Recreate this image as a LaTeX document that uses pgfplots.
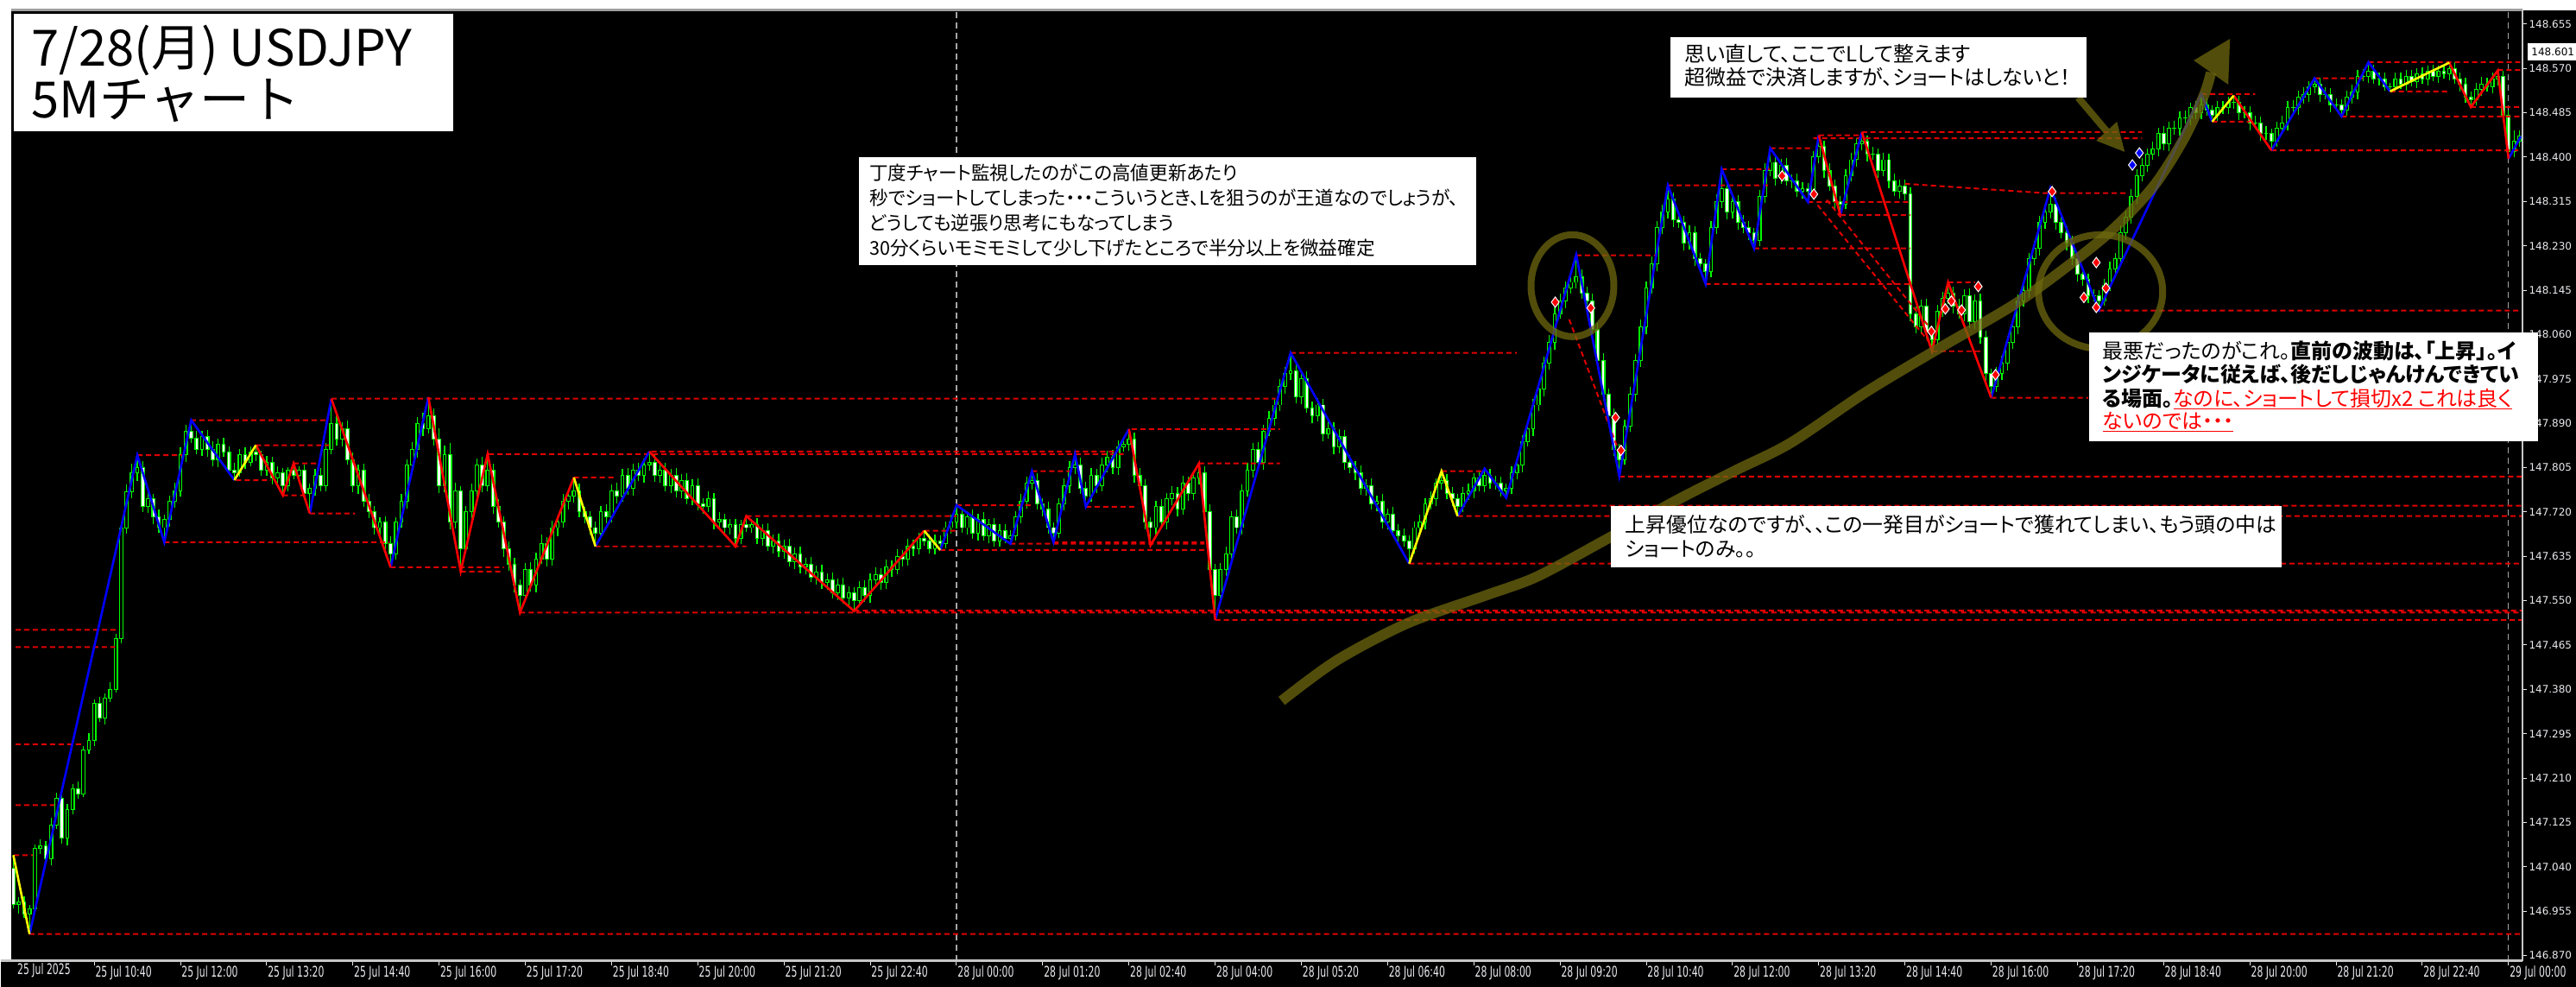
\documentclass[border=0pt]{standalone}
\usepackage{fontspec}
\usepackage{pgfplots}
\usepackage{pgfplotstable}
\pgfplotsset{compat=1.18}
\newfontfamily\jp[RawFeature=+palt]{Noto Sans CJK JP}
\newfontfamily\jpn[RawFeature=+palt,FakeStretch=0.98]{Noto Sans CJK JP}
\newfontfamily\jpt{Noto Sans CJK JP}
\newfontfamily\tickfont{DejaVu Sans}
\newfontfamily\xtickfont[FakeStretch=0.64]{DejaVu Sans}
\definecolor{cg}{RGB}{0,250,0}
\definecolor{zzb}{RGB}{0,0,255}
\definecolor{zzr}{RGB}{255,0,0}
\definecolor{zzy}{RGB}{255,255,0}
\definecolor{dl}{RGB}{225,0,0}
\definecolor{olv}{RGB}{110,104,14}
\definecolor{lab}{RGB}{235,235,240}
\newsavebox\ulbox
\newcommand\redul[1]{\sbox\ulbox{#1}\rlap{\usebox\ulbox}\raisebox{-1.8pt}{\rule{\wd\ulbox}{0.9pt}}}

% candles: i, close, upper wick, lower wick ; prices as (price-147)*1000
\pgfplotstableread{
i c u d
-15 -32 25 8
-14 -28 10 18
-13 -50 12 8
-12 -40 6 39
-11 75 8 6
-10 80 12 10
-9 55 10 8
-8 120 14 12
-7 172 10 8
-6 95 6 10
-5 150 10 14
-4 190 8 9
-3 180 14 10
-2 264 8 6
-1 282 14 8
0 353 8 10
1 325 12 8
2 363 10 12
3 380 14 8
4 477 10 6
5 689 10 8
6 758 14 10
7 795 18 12
8 805 24 16
9 730 12 10
10 745 14 12
11 710 10 14
12 690 14 10
13 705 10 28
14 740 12 14
15 760 16 12
16 830 14 10
17 875 12 14
18 862 21 10
19 840 14 10
20 865 10 12
21 840 12 14
22 820 16 12
23 850 10 14
24 835 12 10
25 800 10 8
26 795 14 14
27 830 10 8
28 815 14 12
29 835 10 8
30 830 13 12
31 800 8 10
32 815 12 10
33 785 10 12
34 795 12 12
35 770 10 18
36 800 6 10
37 790 13 8
38 800 8 12
39 755 10 12
40 765 10 38
41 790 12 14
42 770 14 10
43 840 12 10
44 890 47 10
45 860 16 12
46 880 12 14
47 820 16 10
48 770 14 12
49 800 10 16
50 740 12 10
51 720 14 12
52 690 12 14
53 700 10 16
54 660 12 12
55 640 14 26
56 700 10 12
57 740 14 10
58 810 10 14
59 840 14 12
60 890 12 16
61 880 20 14
62 905 35 10
63 860 14 12
64 770 20 14
65 830 18 12
66 700 22 14
67 760 16 12
68 650 10 44
69 720 12 10
70 760 14 12
71 810 12 14
72 770 16 12
73 800 31 10
74 730 12 14
75 700 14 10
76 650 12 16
77 620 14 12
78 580 12 14
79 560 10 33
80 610 12 10
81 580 14 12
82 630 12 14
83 660 16 10
84 630 12 14
85 690 14 12
86 700 12 16
87 740 14 10
88 750 12 16
89 760 26 12
90 720 14 10
91 710 10 12
92 690 12 14
93 680 12 26
94 720 12 10
95 710 14 12
96 760 12 10
97 750 16 14
98 790 12 10
99 765 14 12
100 800 12 14
101 790 14 10
102 810 12 14
103 815 21 10
104 790 14 12
105 800 12 14
106 770 14 10
107 790 12 14
108 760 14 12
109 780 12 14
110 745 14 10
111 770 12 12
112 735 14 12
113 730 12 14
114 745 14 10
115 700 12 14
116 705 14 12
117 690 12 10
118 695 12 14
119 670 12 16
120 695 10 12
121 690 17 8
122 695 12 10
123 670 14 12
124 685 12 14
125 655 14 10
126 665 12 14
127 645 14 12
128 655 12 14
129 625 14 10
130 640 12 14
131 615 14 12
132 620 12 14
133 595 14 10
134 605 12 14
135 585 14 12
136 590 12 14
137 565 14 10
138 580 12 14
139 555 14 10
140 565 12 14
141 550 10 20
142 575 12 10
143 560 14 12
144 590 12 14
145 600 14 10
146 585 12 14
147 615 14 12
148 610 12 14
149 635 14 10
150 630 12 14
151 655 14 12
152 650 12 14
153 670 10 12
154 665 14 10
155 650 12 10
156 665 12 12
157 660 10 13
158 690 12 10
159 700 14 12
160 715 18 12
161 690 12 10
162 710 12 14
163 680 14 12
164 705 12 14
165 675 14 10
166 695 12 14
167 665 14 12
168 685 12 12
169 670 12 10
170 675 10 11
171 710 12 10
172 740 14 12
173 775 12 14
174 780 18 12
175 735 14 10
176 725 12 14
177 690 14 12
178 680 10 18
179 735 12 10
180 770 14 12
181 805 12 14
182 810 21 12
183 765 14 10
184 750 12 20
185 790 14 10
186 770 12 14
187 810 14 10
188 825 12 14
189 805 14 12
190 845 12 14
191 850 14 10
192 860 19 12
193 790 12 14
194 770 14 10
195 700 12 14
196 690 10 34
197 730 12 14
198 700 14 10
199 745 12 14
200 755 14 12
201 725 12 14
202 775 14 10
203 755 12 14
204 785 12 12
205 795 18 12
206 720 12 14
207 610 14 12
208 560 10 47
209 610 12 10
210 640 14 12
211 710 12 14
212 690 14 12
213 760 12 14
214 800 14 10
215 840 12 14
216 815 14 12
217 875 12 14
218 900 14 10
219 925 12 14
220 960 14 12
221 985 12 14
222 990 35 12
223 940 14 12
224 975 12 14
225 920 14 10
226 905 12 14
227 925 14 12
228 870 12 14
229 880 14 10
230 845 12 14
231 865 14 12
232 815 12 14
233 805 14 10
234 795 12 14
235 765 14 12
236 770 12 14
237 735 14 10
238 740 12 14
239 700 14 12
240 715 12 14
241 685 14 10
242 675 12 14
243 665 14 12
244 650 10 29
245 690 12 10
246 700 14 12
247 735 12 14
248 745 14 10
249 775 10 14
250 780 18 12
251 755 12 10
252 745 12 14
253 730 10 18
254 755 12 10
255 760 14 12
256 785 10 14
257 770 12 10
258 790 13 12
259 775 12 10
260 775 14 12
261 760 12 10
262 765 10 13
263 795 12 10
264 810 14 12
265 855 12 14
266 880 14 10
267 925 12 14
268 955 14 12
269 1005 12 14
270 1045 14 12
271 1100 12 14
272 1125 14 10
273 1150 12 14
274 1160 14 12
275 1170 43 12
276 1140 14 12
277 1125 12 14
278 1070 14 12
279 1010 12 14
280 945 14 12
281 905 12 14
282 840 14 12
283 820 10 32
284 885 12 10
285 945 14 12
286 1010 12 14
287 1075 14 12
288 1150 12 14
289 1195 14 12
290 1265 12 14
291 1295 14 12
292 1320 26 12
293 1280 12 14
294 1275 14 10
295 1235 12 14
296 1255 14 12
297 1205 12 14
298 1195 12 12
299 1180 10 23
300 1265 12 10
301 1315 14 12
302 1340 37 12
303 1295 12 14
304 1315 14 12
305 1275 12 14
306 1265 14 10
307 1255 12 14
308 1240 10 15
309 1325 12 10
310 1375 14 12
311 1390 27 12
312 1360 12 14
313 1385 12 12
314 1355 14 10
315 1355 12 14
316 1335 14 12
317 1340 12 14
318 1335 10 21
319 1400 12 10
320 1420 22 12
321 1375 12 14
322 1345 14 10
323 1315 12 14
324 1310 10 21
325 1365 12 10
326 1395 14 12
327 1425 12 14
328 1430 18 12
329 1405 12 14
330 1405 14 10
331 1375 12 14
332 1395 14 12
333 1355 12 14
334 1335 14 10
335 1345 12 14
336 1330 12 12
337 1100 12 14
338 1075 14 12
339 1115 12 14
340 1065 14 12
341 1050 10 22
342 1105 12 10
343 1130 12 12
344 1140 20 12
345 1115 12 14
346 1100 14 10
347 1135 12 14
348 1085 14 12
349 1125 12 14
350 1055 14 12
351 985 12 14
352 960 10 21
353 985 12 10
354 1005 14 12
355 1045 12 14
356 1075 14 12
357 1125 12 14
358 1145 14 12
359 1205 12 14
360 1225 14 12
361 1275 12 14
362 1295 14 12
363 1310 31 12
364 1275 12 14
365 1255 14 10
366 1235 12 14
367 1205 14 12
368 1175 12 14
369 1165 14 12
370 1135 12 14
371 1135 12 12
372 1125 10 18
373 1155 12 10
374 1185 14 12
375 1205 12 14
376 1255 14 12
377 1285 12 14
378 1325 14 12
379 1365 12 14
380 1385 14 12
381 1405 12 14
382 1415 14 10
383 1445 12 14
384 1425 14 12
385 1455 12 14
386 1455 14 12
387 1475 12 14
388 1475 14 10
389 1495 10 14
390 1485 12 12
391 1500 21 12
392 1490 12 10
393 1480 10 12
394 1495 12 10
395 1495 12 12
396 1505 10 12
397 1505 13 12
398 1485 12 14
399 1485 12 10
400 1465 12 14
401 1465 14 10
402 1445 12 14
403 1445 14 12
404 1430 10 17
405 1455 12 10
406 1465 14 12
407 1495 12 14
408 1495 14 10
409 1515 12 14
410 1520 14 12
411 1535 10 14
412 1540 11 12
413 1520 12 14
414 1520 14 10
415 1500 12 14
416 1500 12 10
417 1490 10 12
418 1515 12 10
419 1525 14 12
420 1555 12 14
421 1555 14 10
422 1565 17 12
423 1550 12 10
424 1550 12 12
425 1535 12 8
426 1535 8 9
427 1550 12 10
428 1540 12 10
429 1555 12 12
430 1545 12 10
431 1560 10 12
432 1550 12 10
433 1565 10 12
434 1555 12 10
435 1565 10 12
436 1560 12 10
437 1570 11 12
438 1550 12 10
439 1540 12 14
440 1515 12 10
441 1510 10 14
442 1530 12 10
443 1540 14 12
444 1535 12 10
445 1550 12 12
446 1555 11 12
447 1480 10 12
448 1410 10 13
449 1430 22 10
450 1440 12 10
}\candles
\pgfplotstablecreatecol[create col/assign/.code={%
  \getprevrow{c}{\prevc}%
  \ifx\prevc\empty\def\prevc{37}\fi
  \pgfkeyslet{/pgfplots/table/create col/next content}\prevc
}]{o}{\candles}

\begin{document}
\begin{tikzpicture}
\begin{scope}[x=0.5pt,y=-0.5pt,yshift=571.5pt]
  \fill[black] (0,0) rectangle (2984,1143);
  \fill[white] (0,0) rectangle (2984,12);
  \fill[white] (0,0) rectangle (12,1113);
\end{scope}
\begin{axis}[
  at={(6.5pt,15pt)}, anchor=south west,
  width=1454.5pt, height=549.5pt, scale only axis,
  xmin=-15.21, xmax=450.6, ymin=146.860, ymax=148.678,
  clip mode=individual,
  axis line style={draw=none},
  tick align=outside, major tick length=2.5pt,
  tick style={draw=lab, line width=0.5pt},
  xtick pos=bottom, ytick pos=right,
  xticklabel pos=lower, yticklabel pos=right,
  xtick={0,16,...,448},
  xticklabels={25 Jul 10:40,25 Jul 12:00,25 Jul 13:20,25 Jul 14:40,25 Jul 16:00,25 Jul 17:20,25 Jul 18:40,25 Jul 20:00,25 Jul 21:20,25 Jul 22:40,28 Jul 00:00,28 Jul 01:20,28 Jul 02:40,28 Jul 04:00,28 Jul 05:20,28 Jul 06:40,28 Jul 08:00,28 Jul 09:20,28 Jul 10:40,28 Jul 12:00,28 Jul 13:20,28 Jul 14:40,28 Jul 16:00,28 Jul 17:20,28 Jul 18:40,28 Jul 20:00,28 Jul 21:20,28 Jul 22:40,29 Jul 00:00},
  xticklabel style={font=\xtickfont\fontsize{8.5}{9}\selectfont, text=lab, anchor=north west, inner sep=0pt, xshift=0.5pt, yshift=-0.3pt},
  ytick={146.870,146.955,147.040,147.125,147.210,147.295,147.380,147.465,147.550,147.635,147.720,147.805,147.890,147.975,148.060,148.145,148.230,148.315,148.400,148.485,148.570,148.655},
  scaled y ticks=false,
  yticklabel style={font=\tickfont\fontsize{6}{7}\selectfont, text=lab, anchor=west, inner sep=0pt, xshift=1pt,
     /pgf/number format/.cd, fixed, fixed zerofill, precision=3, 1000 sep={}, assume math mode=true},
]
% period separators
\addplot[gray!70, dash pattern=on 3.5pt off 2.5pt, line width=0.6pt, forget plot] coordinates {(160,146.86) (160,148.678)};
\addplot[gray!70, dash pattern=on 3.5pt off 2.5pt, line width=0.6pt, forget plot] coordinates {(448,146.86) (448,148.678)};
% wicks
\addplot[draw=none, forget plot, error bars/y dir=plus, error bars/y explicit, error bars/error mark=none,
  error bars/error bar style={draw=cg, solid, line width=0.6pt}]
  table[x=i, y expr={147+(min(\thisrow{o},\thisrow{c})-\thisrow{d})/1000},
        y error plus expr={(abs(\thisrow{c}-\thisrow{o})+\thisrow{u}+\thisrow{d})/1000}] {\candles};
% bodies
\addplot[draw=none, forget plot, error bars/y dir=plus, error bars/y explicit, error bars/error mark=none,
  error bars/error bar style={draw=cg, solid, line width=2.4pt}]
  table[x=i, y expr={147+(min(\thisrow{o},\thisrow{c})-0.8)/1000},
        y error plus expr={(abs(\thisrow{c}-\thisrow{o})+1.6)/1000}] {\candles};
\addplot[draw=none, forget plot, error bars/y dir=plus, error bars/y explicit, error bars/error mark=none,
  error bars/error bar style={draw=black, solid, line width=1.2pt}]
  table[x=i, y expr={147+(min(\thisrow{o},\thisrow{c})+0.8)/1000},
        y error plus expr={max(abs(\thisrow{c}-\thisrow{o})-1.6,0)/1000}] {\candles};
\addplot[draw=none, forget plot, restrict expr to domain={\thisrow{o}-\thisrow{c}}{2:100000},
  error bars/y dir=plus, error bars/y explicit, error bars/error mark=none,
  error bars/error bar style={draw=white, solid, line width=1.2pt}]
  table[x=i, y expr={147+(min(\thisrow{o},\thisrow{c})+0.8)/1000},
        y error plus expr={max(abs(\thisrow{c}-\thisrow{o})-1.6,0)/1000}] {\candles};
% horizontal levels
\addplot[dl, line width=1pt, dash pattern=on 3pt off 2pt, unbounded coords=jump, forget plot] table {
x y
-12 146.911
450.6 146.911
nan nan
-14.9 147.062
-11.4 147.062
nan nan
-14.6 147.158
-7.4 147.158
nan nan
-14.6 147.275
-1.8 147.275
nan nan
-14.6 147.494
4.3 147.494
nan nan
-14.6 147.461
3.8 147.461
nan nan
8 147.829
16.3 147.829
nan nan
17.9 147.896
43 147.896
nan nan
13 147.662
54.8 147.662
nan nan
30 147.848
43.6 147.848
nan nan
37 147.813
42 147.813
nan nan
26.3 147.781
32.8 147.781
nan nan
35 147.752
39.7 147.752
nan nan
40 147.717
48.4 147.717
nan nan
44 147.937
219.2 147.937
nan nan
55 147.614
76 147.614
nan nan
68 147.606
76 147.606
nan nan
73.2 147.831
191 147.831
nan nan
103.4 147.836
190 147.836
nan nan
79 147.527
450.6 147.527
nan nan
141 147.531
450.6 147.531
nan nan
89 147.786
97 147.786
nan nan
93 147.654
121 147.654
nan nan
121 147.712
160 147.712
nan nan
154 147.684
160 147.684
nan nan
157 147.647
206 147.647
nan nan
160 147.733
174 147.733
nan nan
170 147.659
206 147.659
nan nan
178 147.662
206 147.662
nan nan
174 147.798
181 147.798
nan nan
184 147.730
193 147.730
nan nan
192.5 147.879
220 147.879
nan nan
205 147.813
220 147.813
nan nan
208 147.513
450.6 147.513
nan nan
222 148.025
264 148.025
nan nan
244 147.621
450.6 147.621
nan nan
250 147.798
258 147.798
nan nan
253 147.712
450.6 147.712
nan nan
262 147.732
450.6 147.732
nan nan
275 148.212
290 148.212
nan nan
283 147.788
450.6 147.788
nan nan
292 148.346
311 148.346
nan nan
299 148.157
337 148.157
nan nan
302 148.377
311 148.377
nan nan
308 148.225
337 148.225
nan nan
311 148.417
319 148.417
nan nan
318 148.314
337 148.314
nan nan
320 148.442
328 148.442
nan nan
324 148.289
337 148.289
nan nan
328 148.448
380 148.448
nan nan
319 148.436
380 148.436
nan nan
341 148.028
350 148.028
nan nan
344 148.160
349 148.160
nan nan
352 147.939
370 147.939
nan nan
372 148.106
450.6 148.106
nan nan
391 148.521
401 148.521
nan nan
393 148.468
400 148.468
nan nan
404 148.413
450.6 148.413
nan nan
412 148.551
421 148.551
nan nan
417 148.478
450.6 148.478
nan nan
422 148.582
450.6 148.582
nan nan
426 148.526
437 148.526
nan nan
441 148.496
450.6 148.496
nan nan
446 148.567
450.6 148.567
nan nan
273.7 148.089
283 147.834
nan nan
319.8 148.308
340.3 148.048
nan nan
321.5 148.318
341.8 148.058
nan nan
336 148.349
362 148.331
377 148.331
};
% zigzag
\addplot[zzb, line width=1.3pt, unbounded coords=jump, forget plot] table {
x y
-12 146.911
8 147.829
13 147.662
18 147.896
26 147.781
nan nan
40 147.717
44 147.937
nan nan
55 147.614
62 147.940
nan nan
93 147.654
103 147.836
nan nan
157 147.647
160 147.733
170 147.659
174 147.798
178 147.662
182 147.831
184 147.730
192 147.879
nan nan
208 147.513
222 148.025
244 147.621
nan nan
253 147.712
258 147.803
262 147.747
275 148.213
283 147.788
292 148.346
299 148.157
302 148.377
308 148.225
311 148.417
318 148.314
320 148.442
nan nan
324 148.289
328 148.448
nan nan
352 147.939
363 148.341
372 148.107
391 148.521
393 148.468
nan nan
404 148.413
412 148.551
417 148.478
422 148.582
426 148.526
nan nan
448 148.397
450.3 148.440
};
\addplot[zzr, line width=1.3pt, unbounded coords=jump, forget plot] table {
x y
30 147.848
35 147.752
37 147.813
40 147.717
nan nan
44 147.937
55 147.614
nan nan
62 147.940
68 147.606
73 147.831
79 147.527
89 147.786
nan nan
103 147.836
119 147.654
121 147.712
141 147.530
154 147.684
nan nan
192 147.879
196 147.656
205 147.813
208 147.513
nan nan
320 148.442
324 148.289
nan nan
328 148.448
341 148.028
344 148.160
352 147.939
nan nan
397 148.518
404 148.413
nan nan
437 148.581
441 148.496
446 148.566
448 148.397
};
\addplot[zzy, line width=1.3pt, unbounded coords=jump, forget plot] table {
x y
-15 147.062
-12 146.911
nan nan
26 147.781
30 147.848
nan nan
89 147.786
93 147.654
nan nan
154 147.684
157 147.647
nan nan
244 147.621
250 147.798
253 147.712
nan nan
393 148.468
397 148.518
nan nan
426 148.526
437 148.581
};
% trade markers
\addplot[only marks, mark=diamond*, mark size=3pt, mark options={fill=zzr, draw=white, line width=0.5pt}, forget plot] table {
x y
271.1 148.122
277.7 148.111
282.3 147.901
283.3 147.838
313.2 148.364
319.1 148.329
340.9 148.066
343.5 148.109
344.6 148.124
346.5 148.107
349.6 148.152
352.8 147.983
363.3 148.334
369.2 148.131
371.5 148.112
371.5 148.198
373.3 148.149
};
\addplot[only marks, mark=diamond*, mark size=3pt, mark options={fill=zzb, draw=white, line width=0.5pt}, forget plot] table {
x y
378.2 148.385
379.5 148.408
};
\end{axis}
\begin{scope}[x=0.5pt,y=-0.5pt,yshift=571.5pt]
  % frame
  \draw[gray!75, line width=1.5pt] (12,12) -- (2922,12);
  \draw[gray!45, line width=1.2pt] (0,1113) -- (2922,1113);
  \draw[gray!45, line width=1pt] (2922,12) -- (2922,1113);
  \node[anchor=north east, inner sep=0pt, text=lab, font=\xtickfont\fontsize{8.5}{9}\selectfont] at (81,1116) {25 Jul 2025};
  % price tag
  \fill[white] (2928,50) rectangle (2984,70);
  \node[anchor=west, inner sep=0pt, text=black, font=\tickfont\fontsize{6}{7}\selectfont] at (2932,60) {148.601};
  % olive annotations
  \begin{scope}[opacity=0.75]
    \draw[olv, line width=6pt] plot[smooth] coordinates {(1484,812) (1548,765) (1630,722) (1720,690) (1780,668) (1860,625) (1941,580) (2010,545) (2074,513) (2160,455) (2245,404) (2331,354) (2390,312) (2447,266) (2495,215) (2530,160) (2553,110) (2561,84)};
    \fill[olv] (2583,45) -- (2541,70) -- (2581,98) -- cycle;
    \draw[olv, line width=4pt] (2407,113) -- (2440,152);
    \fill[olv] (2461,176) -- (2428,163) -- (2452,141) -- cycle;
    \draw[olv, line width=4pt] (1821,331) ellipse [x radius=48, y radius=59];
    \draw[olv, line width=4pt] (2433,338) ellipse [x radius=72, y radius=66];
  \end{scope}
  % title box
  \fill[white] (15,16) rectangle (524,152);
  \node[anchor=base west, inner sep=0pt, font=\jpt\fontsize{29}{30}\selectfont] at (35,77) {7/28(月) USDJPY};
  \node[anchor=base west, inner sep=0pt, font=\jpt\fontsize{29}{30}\selectfont] at (35,137) {5Mチャート};
  % box 1
  \fill[white] (994,182) rectangle (1709,307);
  \begin{scope}[every node/.style={anchor=base west, inner sep=0pt, font=\jpn\fontsize{11}{12}\selectfont}]
    \node at (1006,209) {丁度チャート監視したのがこの高値更新あたり};
    \node at (1006,238) {秒でショートしてしまった・・・こういうとき、Lを狙うのが王道なのでしょうが、};
    \node at (1006,267) {どうしても逆張り思考にもなってしまう};
    \node at (1006,296) {30分くらいモミモミして少し下げたところで半分以上を微益確定};
  \end{scope}
  % box 2
  \fill[white] (1935,43) rectangle (2417,113);
  \begin{scope}[every node/.style={anchor=base west, inner sep=0pt, font=\jp\fontsize{12}{13}\selectfont}]
    \node at (1951,72) {思い直して、ここでLして整えます};
    \node at (1951,99) {超微益で決済しますが、ショートはしないと！};
  \end{scope}
  % box 3
  \fill[white] (2420,385) rectangle (2940,511);
  \begin{scope}[every node/.style={anchor=base west, inner sep=0pt, font=\jp\fontsize{12}{13}\selectfont}]
    \node at (2435,416) {最悪だったのがこれ。\bfseries 直前の波動は、「上昇」。イ};
    \node at (2435,443) {\bfseries ンジケータに従えば、後だしじゃんけんできてい};
    \node at (2435,471) {{\bfseries る場面。}{\color{red}\redul{なのに、ショートして損切x2 これは良く}}};
    \node at (2435,497) {{\color{red}\redul{ないのでは・・・}}};
  \end{scope}
  % box 4
  \fill[white] (1866,586) rectangle (2643,657);
  \begin{scope}[every node/.style={anchor=base west, inner sep=0pt, font=\jp\fontsize{11.9}{13}\selectfont}]
    \node at (1882,617) {上昇優位なのですが、、この一発目がショートで獲れてしまい、もう頭の中は};
    \node at (1882,645) {ショートのみ。。};
  \end{scope}
\end{scope}
\path[use as bounding box] (0,0) rectangle (1492pt,571.5pt);
\end{tikzpicture}
\end{document}
